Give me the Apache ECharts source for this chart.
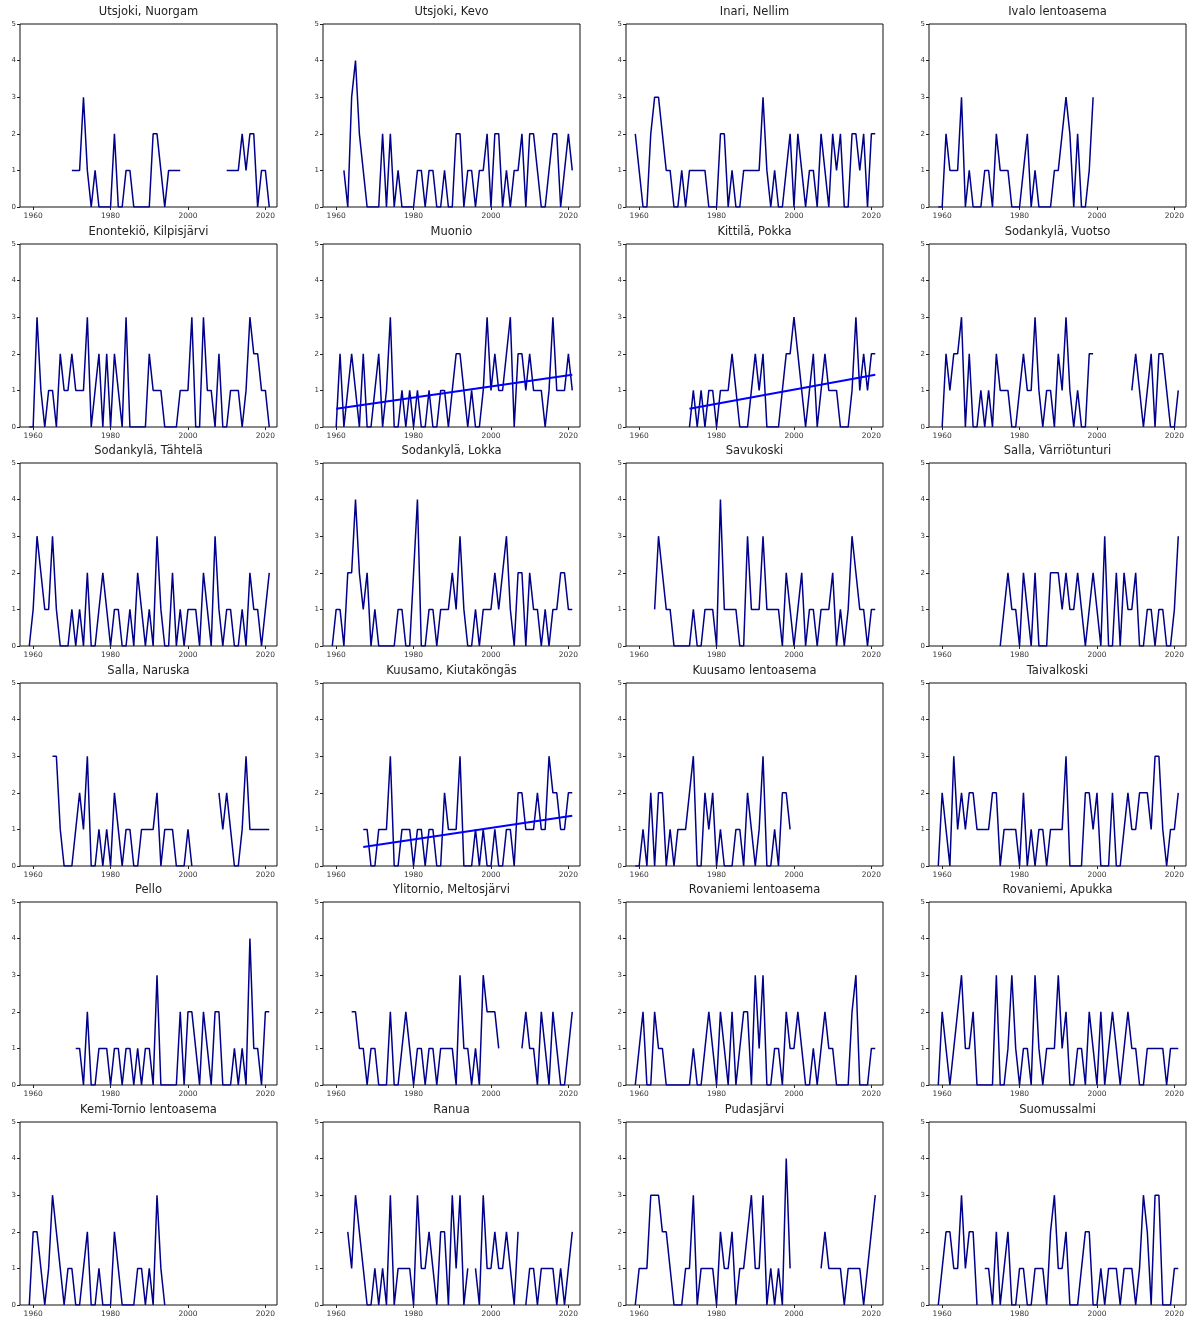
<!DOCTYPE html>
<html>
<head>
<meta charset="utf-8">
<script src="https://cdn.jsdelivr.net/npm/echarts@6/dist/echarts.min.js"></script>
<style>
  html, body { margin: 0; padding: 0; background: #ffffff; }
  #chart { width: 1192px; height: 1324px; }
</style>
</head>
<body>
<div id="chart"></div>
<script>
// Annual counts per weather station, one array per station (null = no observation)
const stationNames = [
  'Utsjoki, Nuorgam', 'Utsjoki, Kevo', 'Inari, Nellim', 'Ivalo lentoasema',
  'Enontekiö, Kilpisjärvi', 'Muonio', 'Kittilä, Pokka', 'Sodankylä, Vuotso',
  'Sodankylä, Tähtelä', 'Sodankylä, Lokka', 'Savukoski', 'Salla, Värriötunturi',
  'Salla, Naruska', 'Kuusamo, Kiutaköngäs', 'Kuusamo lentoasema', 'Taivalkoski',
  'Pello', 'Ylitornio, Meltosjärvi', 'Rovaniemi lentoasema', 'Rovaniemi, Apukka',
  'Kemi-Tornio lentoasema', 'Ranua', 'Pudasjärvi', 'Suomussalmi'
];

const firstYears = [
  1970, 1962, 1959, 1959,
  1959, 1960, 1973, 1960,
  1959, 1959, 1964, 1975,
  1965, 1967, 1959, 1959,
  1971, 1964, 1959, 1959,
  1959, 1963, 1959, 1959
];

const nuorgam = [1,1,1,3,1,0,1,0,0,0, 0,2,0,0,1,1,0,0,0,0, 0,2,2,1,0,1,1,1,1,null,
  null,null,null,null,null,null,null,null,null,null, 1,1,1,1,2,1,2,2,0,1, 1,0];
const kevo = [1,0,3,4,2,1,0,0, 0,0,2,0,2,0,1,0,0,0, 0,1,1,0,1,1,0,0,1,0,
  0,2,2,0,1,1,0,1,1,2, 0,2,2,0,1,0,1,1,2,0, 2,2,1,0,0,1,2,2,0,1, 2,1];
const nellim = [2, 1,0,0,2,3,3,2,1,1,0, 0,1,0,1,1,1,1,1,0,0, 0,2,2,0,1,0,0,1,1,1,
  1,1,3,1,0,1,0,0,1,2, 0,2,1,0,1,1,0,2,1,0, 2,1,2,0,0,2,2,1,2,0, 2,2];
const ivalo = [0, 0,2,1,1,1,3,0,1,0,0, 0,1,1,0,2,1,1,1,0,0, 0,1,2,0,1,0,0,0,0,1,
  1,2,3,2,0,2,0,0,1,3];
const kilpisjarvi = [0, 0,3,1,0,1,1,0,2,1,1, 2,1,1,1,3,0,1,2,0,2, 0,2,1,0,3,0,0,0,0,0,
  2,1,1,1,0,0,0,0,1,1, 1,3,0,0,3,1,1,0,2,0, 0,1,1,1,0,1,3,2,2,1, 1,0];
const muonio = [0,2,0,1,2,1,0,2,0,0, 1,2,0,1,3,0,0,1,0,1, 0,1,0,0,1,0,0,1,1,0,
  1,2,2,1,0,1,0,0,1,3, 1,2,1,1,2,3,0,2,2,1, 2,1,1,1,0,1,3,1,1,1, 2,1];
const pokka = [0,1,0,1,0,1,1, 0,1,1,1,2,1,0,0,0,1, 2,1,2,0,0,0,0,1,2,2,
  3,2,1,0,1,2,0,1,2,1, 1,1,0,0,0,1,3,1,2,1, 2,2];
const vuotso = [0,2,1,2,2,3,0,2,0,0, 1,0,1,0,2,1,1,1,0,0, 1,2,1,1,3,1,0,1,1,0,
  2,1,3,1,0,1,0,0,2,2, null,null,null,null,null,null,null,null,null,1,
  2,1,0,1,2,0,2,2,1,0, 0,1];
const tahtela = [0, 1,3,2,1,1,3,1,0,0,0, 1,0,1,0,2,0,0,1,2,1, 0,1,1,0,0,1,0,2,1,0,
  1,0,3,1,0,0,2,0,1,0, 1,1,1,0,2,1,0,3,1,0, 1,1,0,0,1,0,2,1,1,0, 1,2];
const lokka = [0, 1,1,0,2,2,4,2,1,2,0, 1,0,0,0,0,0,1,1,0,0, 2,4,0,0,1,1,0,1,1,1,
  2,1,3,1,0,0,1,0,1,1, 1,2,1,2,3,1,0,2,2,0, 2,1,1,0,1,0,1,1,2,2, 1,1];
const savukoski = [1,3,2,1,1,0, 0,0,0,0,1,0,0,1,1,1, 0,4,1,1,1,1,0,0,3,1,
  1,1,3,1,1,1,1,0,2,1, 0,1,2,0,1,1,0,1,1,1, 2,0,1,0,1,3,2,1,1,0, 1,1];
const varriotunturi = [0,1,2,1,1, 0,2,1,0,2,0,0,0,2,2, 2,1,2,1,1,2,1,0,1,2,
  1,0,3,0,0,2,0,2,1,1, 2,0,0,1,1,0,1,1,0,0, 1,3];
const naruska = [3,3,1,0,0, 0,1,2,1,3,0,0,1,0,1, 0,2,1,0,1,1,0,0,1,1,
  1,1,2,0,1,1,1,0,0,0, 1,0,null,null,null,null,null,null,2,1, 2,1,0,0,1,3,1,1,1,1, 1,1];
const kiutakongas = [1,1,0, 0,1,1,1,3,0,0,1,1,1, 0,1,1,0,1,1,0,0,2,1,
  1,1,3,0,0,0,1,0,1,0, 0,1,0,0,1,1,0,2,2,1, 1,1,2,1,1,3,2,2,1,1, 2,2];
const kuusamoAirport = [0, 0,1,0,2,0,2,2,0,1,0, 1,1,1,2,3,0,0,2,1,2, 0,1,0,0,0,1,1,0,2,1,
  0,1,3,0,0,1,0,2,2,1];
const taivalkoski = [0, 2,1,0,3,1,2,1,2,2,1, 1,1,1,2,2,0,1,1,1,1, 0,2,0,1,0,1,1,0,1,1,
  1,1,3,0,0,0,0,2,2,1, 2,0,0,0,2,0,0,1,2,1, 1,2,2,2,1,3,3,1,0,1, 1,2];
const pello = [1,1,0,2,0,0,1,1,1, 0,1,1,0,1,1,0,1,0,1, 1,0,3,0,0,0,0,0,2,0,
  2,2,1,0,2,1,0,2,2,0, 0,0,1,0,1,0,4,1,1,0, 2,2];
const meltosjarvi = [2,2,1,1,0,1, 1,0,0,0,2,0,0,1,2,1, 0,1,1,0,1,1,0,1,1,1,
  1,0,3,1,1,0,1,0,3,2, 2,2,1,null,null,null,null,null,1,2, 1,1,0,2,1,0,2,1,0,0, 1,2];
const rovaniemiAirport = [0, 1,2,0,0,2,1,1,0,0,0, 0,0,0,0,1,0,0,1,2,1, 0,2,1,0,2,0,1,2,2,0,
  3,1,3,0,0,1,1,0,2,1, 1,2,1,0,0,1,0,1,2,1, 1,0,0,0,0,2,3,0,0,0, 1,1];
const apukka = [0, 2,1,0,1,2,3,1,1,2,0, 0,0,0,0,3,0,0,1,3,1, 0,1,1,0,3,1,0,1,1,1,
  3,1,2,0,0,1,1,0,2,1, 0,2,0,1,2,1,0,1,2,1, 1,0,0,1,1,1,1,1,0,1, 1,1];
const kemiTornio = [0, 2,2,1,0,1,3,2,1,0,1, 1,0,0,1,2,0,0,1,0,0, 0,2,1,0,0,0,0,1,1,0,
  1,0,3,1,0];
const ranua = [2,1,3,2,1,0,0, 1,0,1,0,3,0,1,1,1,1, 0,3,1,1,2,1,0,2,2,0,
  3,1,3,0,1,null,1,0,3,1, 1,2,1,1,2,1,0,2,null,0, 1,1,0,1,1,1,1,0,1,0, 1,2];
const pudasjarvi = [0, 1,1,1,3,3,3,2,2,1,0, 0,0,1,1,3,0,1,1,1,1, 0,2,1,1,2,0,1,1,2,3,
  1,1,3,0,1,0,1,0,4,1, null,null,null,null,null,null,null,1,2,1,
  1,1,1,0,1,1,1,1,0,1, 2,3];
const suomussalmi = [0, 1,2,2,1,1,3,1,2,2,0, null,1,1,0,2,0,1,2,0,0, 1,1,0,0,1,1,1,0,2,3,
  1,1,2,0,0,0,1,2,2,0, 0,1,0,1,1,1,0,1,1,1, 0,1,3,2,0,3,3,0,0,0, 1,1];

const stationValues = [
  nuorgam, kevo, nellim, ivalo,
  kilpisjarvi, muonio, pokka, vuotso,
  tahtela, lokka, savukoski, varriotunturi,
  naruska, kiutakongas, kuusamoAirport, taivalkoski,
  pello, meltosjarvi, rovaniemiAirport, apukka,
  kemiTornio, ranua, pudasjarvi, suomussalmi
];

// Fitted linear trends (start and end of each fitted line)
const trendMuonio = [[1960, 0.50], [2021, 1.43]];
const trendPokka = [[1973, 0.50], [2021, 1.43]];
const trendKiutakongas = [[1967, 0.52], [2021, 1.37]];
const trendByPanel = { 5: trendMuonio, 6: trendPokka, 13: trendKiutakongas };

const xTickYears = [1960, 1980, 2000, 2020];

// Panel layout (4 columns x 6 rows)
const colLeft = [20, 323, 626, 929];
const panelW = 257;
const rowTop0 = 24, rowStep = 219.6, panelH = 183;
const fontFamily = 'DejaVu Sans, Liberation Sans, sans-serif';

const grids = [], xAxes = [], yAxes = [], series = [], graphics = [];

stationNames.forEach((name, i) => {
  const col = i % 4, row = Math.floor(i / 4);
  const left = colLeft[col];
  const top = Math.round(rowTop0 + row * rowStep);
  grids.push({
    left: left, top: top, width: panelW, height: panelH,
    show: true, borderColor: '#111', borderWidth: 1, backgroundColor: '#fff'
  });
  xAxes.push({
    type: 'value', gridIndex: i, min: 1956.6, max: 2023,
    axisLine: { show: false },
    splitLine: { show: false },
    axisTick: { show: true, length: 3, lineStyle: { color: '#222' }, customValues: xTickYears },
    axisLabel: { fontSize: 7.5, color: '#333', margin: 5, fontFamily: fontFamily, customValues: xTickYears,
                 formatter: v => String(v) }
  });
  yAxes.push({
    type: 'value', gridIndex: i, min: 0, max: 5, interval: 1,
    axisLine: { show: false },
    splitLine: { show: false },
    axisTick: { show: true, length: 3, lineStyle: { color: '#222' } },
    axisLabel: { fontSize: 7, color: '#333', margin: 4, fontFamily: fontFamily }
  });
  const vals = stationValues[i];
  const start = firstYears[i];
  series.push({
    type: 'line', xAxisIndex: i, yAxisIndex: i,
    data: vals.map((v, k) => [start + k, v === null ? '-' : v]),
    symbol: 'none', connectNulls: false,
    lineStyle: { color: '#00008b', width: 1.5 },
    itemStyle: { color: '#00008b' },
    animation: false, silent: true
  });
  if (trendByPanel[i]) {
    series.push({
      type: 'line', xAxisIndex: i, yAxisIndex: i,
      data: trendByPanel[i],
      symbol: 'none',
      lineStyle: { color: '#0000ff', width: 2 },
      itemStyle: { color: '#0000ff' },
      animation: false, silent: true, z: 3
    });
  }
  graphics.push({
    type: 'text',
    x: left + panelW / 2, y: top - 11.5,
    style: {
      text: name, fill: '#222', fontSize: 11.5, fontFamily: fontFamily,
      align: 'center', verticalAlign: 'middle'
    }
  });
});

const chart = echarts.init(document.getElementById('chart'), null, { renderer: 'canvas' });
chart.setOption({
  backgroundColor: '#ffffff',
  animation: false,
  grid: grids,
  xAxis: xAxes,
  yAxis: yAxes,
  series: series,
  graphic: graphics
});
</script>
</body>
</html>
